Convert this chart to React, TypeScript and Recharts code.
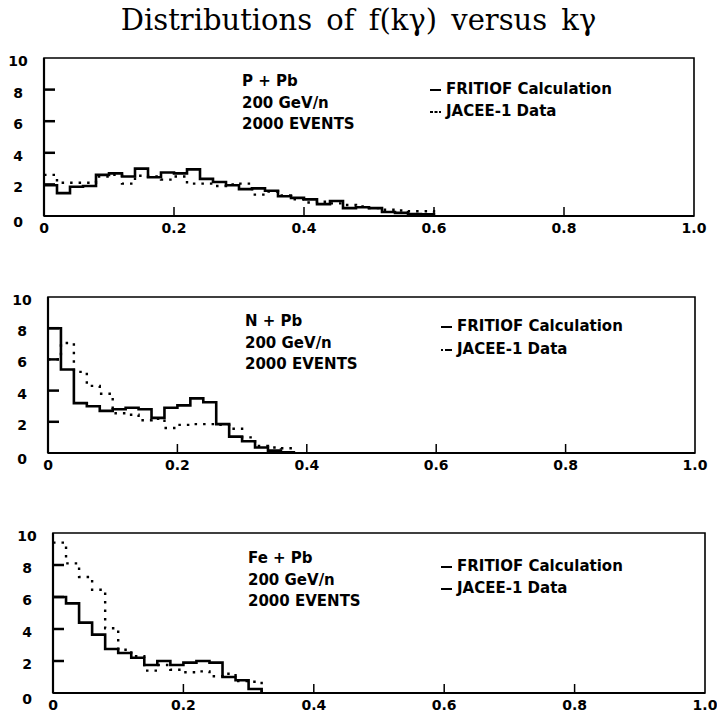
import React from 'react';
import { LineChart, Line, XAxis, YAxis, ReferenceArea } from 'recharts';

// bin edges of k_gamma (0.02 wide bins)
const EDGES = [
  0, 0.02, 0.04, 0.06, 0.08, 0.1, 0.12, 0.14, 0.16, 0.18, 0.2, 0.22, 0.24, 0.26, 0.28, 0.3,
  0.32, 0.34, 0.36, 0.38, 0.4, 0.42, 0.44, 0.46, 0.48, 0.5, 0.52, 0.54, 0.56, 0.58, 0.6, 0.62,
];
const X_TICKS = [0, 0.2, 0.4, 0.6, 0.8, 1.0];
const Y_TICKS = [0, 2, 4, 6, 8, 10];

// P + Pb
const P_FRITIOF = [
  1.95, 1.45, 1.85, 1.9, 2.6, 2.7, 2.5, 3.0, 2.45, 2.75, 2.7, 2.95, 2.35, 2.15, 1.95, 1.7,
  1.75, 1.6, 1.25, 1.15, 1.05, 0.75, 0.95, 0.5, 0.55, 0.5, 0.25, 0.2, 0.12, 0.1, 0,
];
const P_JACEE = [
  2.6, 2.1, 2.1, 2.1, 2.5, 2.6, 2.05, 2.55, 2.5, 2.3, 2.5, 2.05, 2.05, 1.9, 2.0, 2.05,
  1.35, 1.55, 1.3, 1.05, 0.85, 0.9, 0.8, 0.7, 0.6, 0.5, 0.4, 0.35, 0.3, 0.3, 0,
];

// N + Pb
const N_FRITIOF = [8.0, 5.35, 3.2, 3.0, 2.7, 2.8, 2.9, 2.8, 2.25, 2.9, 3.05, 3.5, 3.25, 1.85, 1.05, 0.75, 0.35, 0.15, 0.05, 0];
const N_JACEE = [6.0, 7.05, 5.2, 4.3, 3.8, 2.55, 2.45, 2.1, 2.2, 1.6, 1.8, 1.85, 1.85, 1.8, 1.55, 1.0, 0.45, 0.35, 0.3, 0];

// Fe + Pb
const FE_FRITIOF = [6.0, 5.6, 4.4, 3.65, 2.75, 2.5, 2.2, 1.75, 2.0, 1.75, 1.9, 2.0, 1.9, 1.0, 0.8, 0.25, 0];
const FE_JACEE = [9.4, 8.1, 7.25, 6.45, 4.05, 2.7, 2.3, 1.4, 1.75, 1.45, 1.3, 1.35, 1.05, 1.2, 0.75, 0.7, 0];

const SANS = '"DejaVu Sans", sans-serif';

const buildRows = (fritiof: number[], jacee: number[]) =>
  EDGES.slice(0, Math.max(fritiof.length, jacee.length)).map((x, i) => ({
    x,
    fritiof: i < fritiof.length ? fritiof[i] : null,
    jacee: i < jacee.length ? jacee[i] : null,
  }));

const XTick = (props: any) => {
  const { x, y, payload } = props;
  const v = payload.value;
  const inner = v > 0 && v < 1;
  return (
    <g>
      {inner && <line x1={x} y1={y} x2={x} y2={y - 9} stroke="#000" strokeWidth={1.5} />}
      <text x={x} y={y + 17} textAnchor="middle" fontFamily={SANS} fontWeight="bold" fontSize={14} fill="#000">
        {v === 0 ? '0' : v.toFixed(1)}
      </text>
    </g>
  );
};

const YTick = (props: any) => {
  const { x, y, payload } = props;
  const v = payload.value;
  const inner = v > 0 && v < 10;
  return (
    <g>
      {inner && <line x1={x} y1={y} x2={x + 11} y2={y} stroke="#000" strokeWidth={2.5} />}
      <text x={x - 26} y={y + (v === 0 ? 11 : 8)} textAnchor="middle" fontFamily={SANS} fontWeight="bold" fontSize={14} fill="#000">
        {v}
      </text>
    </g>
  );
};

type PanelProps = {
  top: number;
  height: number;
  m: { top: number; left: number; right: number; bottom: number };
  fritiof: number[];
  jacee: number[];
};

const Panel = ({ top, height, m, fritiof, jacee }: PanelProps) => {
  const rows = buildRows(fritiof, jacee);
  return (
    <div style={{ position: 'absolute', left: 0, top }}>
      <LineChart width={717} height={height} data={rows} margin={{ top: m.top, right: m.right, bottom: 0, left: 0 }}>
        <XAxis
          type="number"
          dataKey="x"
          domain={[0, 1]}
          ticks={X_TICKS}
          interval={0}
          height={m.bottom}
          tickSize={0}
          tickMargin={0}
          tickLine={false}
          tick={(p: any) => <XTick {...p} />}
          axisLine={{ stroke: '#000', strokeWidth: 2.2 }}
          allowDataOverflow
        />
        <YAxis
          type="number"
          domain={[0, 10]}
          ticks={Y_TICKS}
          interval={0}
          width={m.left}
          tickSize={0}
          tickMargin={0}
          tickLine={false}
          tick={(p: any) => <YTick {...p} />}
          axisLine={{ stroke: '#000', strokeWidth: 2.2 }}
          allowDataOverflow
        />
        <ReferenceArea x1={0} x2={1} y1={0} y2={10} fill="none" fillOpacity={0} stroke="#000" strokeWidth={1.6} />
        <Line
          type="stepAfter"
          dataKey="jacee"
          stroke="#000"
          strokeWidth={2.4}
          strokeDasharray="2.5 6"
          dot={false}
          isAnimationActive={false}
        />
        <Line type="stepAfter" dataKey="fritiof" stroke="#000" strokeWidth={2.6} dot={false} isAnimationActive={false} />
      </LineChart>
    </div>
  );
};

const textStyle: React.CSSProperties = {
  position: 'absolute',
  fontFamily: SANS,
  fontWeight: 'bold',
  fontSize: 15,
  lineHeight: '21.5px',
  color: '#000',
  whiteSpace: 'nowrap',
};

const Note = ({ left, top, lines }: { left: number; top: number; lines: string[] }) => (
  <div style={{ ...textStyle, left, top }}>
    {lines.map((l) => (
      <div key={l}>{l}</div>
    ))}
  </div>
);

const LegendRow = ({ left, y, dash, label }: { left: number; y: number; dash?: string; label: string }) => (
  <div style={{ ...textStyle, left, top: y - 10.75, display: 'flex', alignItems: 'center' }}>
    <svg width={14} height={10} style={{ marginRight: 3 }}>
      <line x1={1} y1={5} x2={12} y2={5} stroke="#000" strokeWidth={2} strokeDasharray={dash} />
    </svg>
    <span>{label}</span>
  </div>
);

export default function App() {
  return (
    <div style={{ position: 'absolute', left: 0, top: 0, width: 717, height: 717, background: '#fff' }}>
      <div
        style={{
          position: 'absolute',
          left: 0,
          top: 2,
          width: 717,
          textAlign: 'center',
          fontFamily: '"DejaVu Serif", serif',
          fontSize: 29,
          lineHeight: '36px',
          wordSpacing: 5,
        }}
      >
        Distributions of f(kγ) versus kγ
      </div>

      <Panel top={0} height={240} m={{ top: 58, left: 44, right: 23, bottom: 24 }} fritiof={P_FRITIOF} jacee={P_JACEE} />
      <Panel top={240} height={240} m={{ top: 57, left: 48, right: 22, bottom: 27 }} fritiof={N_FRITIOF} jacee={N_JACEE} />
      <Panel top={480} height={237} m={{ top: 53, left: 53, right: 12, bottom: 24 }} fritiof={FE_FRITIOF} jacee={FE_JACEE} />

      <Note left={242} top={71} lines={['P + Pb', '200 GeV/n', '2000 EVENTS']} />
      <LegendRow left={429} y={90} label="FRITIOF Calculation" />
      <LegendRow left={429} y={112} dash="3 1.5" label="JACEE-1 Data" />

      <Note left={245} top={311} lines={['N + Pb', '200 GeV/n', '2000 EVENTS']} />
      <LegendRow left={440} y={327} label="FRITIOF Calculation" />
      <LegendRow left={440} y={350} dash="2 2 9 0" label="JACEE-1 Data" />

      <Note left={248} top={548} lines={['Fe + Pb', '200 GeV/n', '2000 EVENTS']} />
      <LegendRow left={440} y={567} label="FRITIOF Calculation" />
      <LegendRow left={440} y={589} label="JACEE-1 Data" />
    </div>
  );
}
